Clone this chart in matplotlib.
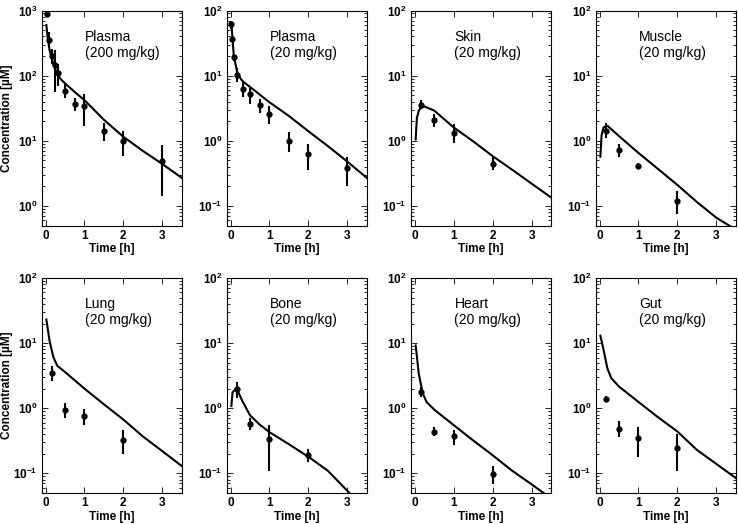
import numpy as np
import matplotlib.pyplot as plt
from matplotlib.ticker import LogLocator, FixedLocator, NullFormatter

plt.rcParams['font.family'] = ['Liberation Sans', 'DejaVu Sans']
plt.rcParams['mathtext.fontset'] = 'custom'
plt.rcParams['mathtext.bf'] = 'Liberation Sans:bold'
plt.rcParams['mathtext.rm'] = 'Liberation Sans'

# measured data: time [h], mean, lower, upper  /  model curve: time, conc
plasma200_t = [0.033, 0.083, 0.167, 0.25, 0.33, 0.5, 0.75, 1.0, 1.5, 2.0, 3.0]
plasma200_c = [880, 355, 200, 145, 108, 59, 37, 34, 14, 10, 4.9]
plasma200_lo = [820, 270, 150, 57, 69, 45, 29, 17, 10, 5.8, 1.4]
plasma200_hi = [950, 470, 260, 250, 150, 76, 45, 52, 19, 14, 8.5]
plasma200_mt = [0.02, 0.05, 0.1, 0.2, 0.3, 0.4, 0.5, 0.75, 1.0, 1.5, 2.0, 2.5, 3.0, 3.5]
plasma200_mc = [600, 400, 250, 150, 105, 87, 76, 56, 42, 21, 11.5, 7.0, 4.4, 2.7]

plasma20_t = [0.02, 0.033, 0.083, 0.167, 0.33, 0.5, 0.75, 1.0, 1.5, 2.0, 3.0]
plasma20_c = [62, 37, 19.4, 10.2, 6.3, 5.2, 3.5, 2.6, 1.0, 0.63, 0.38]
plasma20_lo = [52, 33, 17, 8.0, 4.7, 3.7, 2.7, 1.8, 0.67, 0.36, 0.2]
plasma20_hi = [70, 41, 21, 13, 8.0, 6.9, 4.4, 3.4, 1.37, 0.9, 0.56]
plasma20_mt = [0.02, 0.083, 0.167, 0.25, 0.33, 0.5, 1.0, 1.5, 2.0, 2.5, 3.0, 3.5]
plasma20_mc = [65, 20, 11.5, 9.1, 8.0, 6.7, 3.9, 2.4, 1.4, 0.83, 0.48, 0.27]

skin_t = [0.167, 0.5, 1.0, 2.0]
skin_c = [3.6, 2.08, 1.32, 0.44]
skin_lo = [3.1, 1.6, 0.93, 0.36]
skin_hi = [4.2, 2.6, 1.84, 0.56]
skin_mt = [0.02, 0.05, 0.1, 0.17, 0.25, 0.5, 0.75, 1.0, 1.5, 2.0, 2.5, 3.0, 3.5]
skin_mc = [1.05, 2.2, 2.9, 3.3, 3.35, 2.9, 2.15, 1.6, 0.98, 0.58, 0.36, 0.22, 0.135]

muscle_t = [0.167, 0.5, 1.0, 2.0]
muscle_c = [1.42, 0.71, 0.41, 0.12]
muscle_lo = [1.1, 0.57, 0.38, 0.075]
muscle_hi = [1.85, 0.88, 0.45, 0.17]
muscle_mt = [0.02, 0.05, 0.1, 0.2, 0.5, 1.0, 1.5, 2.0, 2.5, 3.0, 3.4]
muscle_mc = [0.57, 1.2, 1.6, 1.7, 1.18, 0.65, 0.37, 0.21, 0.115, 0.066, 0.047]

lung_t = [0.167, 0.5, 1.0, 2.0]
lung_c = [3.5, 0.94, 0.75, 0.33]
lung_lo = [2.65, 0.72, 0.56, 0.2]
lung_hi = [4.5, 1.22, 0.96, 0.47]
lung_mt = [0.02, 0.1, 0.2, 0.3, 0.5, 1.0, 1.5, 2.0, 2.5, 3.0, 3.5]
lung_mc = [23, 11, 6.1, 4.5, 3.6, 2.0, 1.15, 0.67, 0.37, 0.22, 0.13]

bone_t = [0.167, 0.5, 1.0, 2.0]
bone_c = [2.0, 0.58, 0.34, 0.19]
bone_lo = [1.46, 0.47, 0.11, 0.15]
bone_hi = [2.5, 0.72, 0.56, 0.24]
bone_mt = [0.02, 0.05, 0.15, 0.3, 0.5, 0.75, 1.0, 1.5, 2.0, 2.5, 3.1]
bone_mc = [1.08, 1.75, 2.05, 1.3, 0.78, 0.56, 0.43, 0.28, 0.18, 0.11, 0.047]

heart_t = [0.167, 0.5, 1.0, 2.0]
heart_c = [1.8, 0.43, 0.37, 0.098]
heart_lo = [1.5, 0.38, 0.27, 0.068]
heart_hi = [2.15, 0.51, 0.47, 0.13]
heart_mt = [0.02, 0.1, 0.2, 0.3, 0.5, 1.0, 1.5, 2.0, 2.5, 3.0, 3.35]
heart_mc = [9.2, 3.4, 1.7, 1.25, 0.95, 0.55, 0.32, 0.19, 0.11, 0.068, 0.048]

gut_t = [0.167, 0.5, 1.0, 2.0]
gut_c = [1.38, 0.48, 0.35, 0.245]
gut_lo = [1.25, 0.36, 0.18, 0.108]
gut_hi = [1.54, 0.63, 0.51, 0.4]
gut_mt = [0.02, 0.1, 0.2, 0.3, 0.5, 1.0, 1.5, 2.0, 2.5, 3.0, 3.5]
gut_mc = [13, 8, 4.1, 2.9, 2.15, 1.25, 0.73, 0.44, 0.23, 0.14, 0.085]

panels = [
    ("Plasma\n(200 mg/kg)", plasma200_t, plasma200_c, plasma200_lo, plasma200_hi, plasma200_mt, plasma200_mc, (0.5, 1000)),
    ("Plasma\n(20 mg/kg)", plasma20_t, plasma20_c, plasma20_lo, plasma20_hi, plasma20_mt, plasma20_mc, (0.05, 100)),
    ("Skin\n(20 mg/kg)", skin_t, skin_c, skin_lo, skin_hi, skin_mt, skin_mc, (0.05, 100)),
    ("Muscle\n(20 mg/kg)", muscle_t, muscle_c, muscle_lo, muscle_hi, muscle_mt, muscle_mc, (0.05, 100)),
    ("Lung\n(20 mg/kg)", lung_t, lung_c, lung_lo, lung_hi, lung_mt, lung_mc, (0.05, 100)),
    ("Bone\n(20 mg/kg)", bone_t, bone_c, bone_lo, bone_hi, bone_mt, bone_mc, (0.05, 100)),
    ("Heart\n(20 mg/kg)", heart_t, heart_c, heart_lo, heart_hi, heart_mt, heart_mc, (0.05, 100)),
    ("Gut\n(20 mg/kg)", gut_t, gut_c, gut_lo, gut_hi, gut_mt, gut_mc, (0.05, 100)),
]

fig = plt.figure(figsize=(7.38, 5.24), dpi=100)
lefts = [41.7, 226.7, 411, 595.7]
tops = [10.5, 278]
W, H = 738, 524

for i, (label, t, c, lo, hi, mt, mc, ylim) in enumerate(panels):
    row, col = divmod(i, 4)
    ax = fig.add_axes([lefts[col] / W, 1 - (tops[row] + 215) / H, 140 / W, 215 / H])
    c = np.array(c)
    yerr = [c - np.array(lo), np.array(hi) - c]
    ax.plot(mt, mc, color='black', lw=1.5)
    ax.errorbar(t, c, yerr=yerr, fmt='o', color='black', ms=3.5, elinewidth=1.5,
                capsize=0, clip_on=False)
    ax.set_yscale('log')
    ax.set_ylim(*ylim)
    ax.set_xlim(-0.1, 3.5)
    ax.set_xticks([0, 1, 2, 3])
    ax.set_xticklabels(['0', '1', '2', '3'], fontweight='bold', fontsize=8.5)
    lo_e, hi_e = int(np.ceil(np.log10(ylim[0]))), int(np.log10(ylim[1]))
    exps = list(range(lo_e, hi_e + 1))
    ax.yaxis.set_major_locator(FixedLocator([10.0 ** e for e in exps]))
    ax.set_yticklabels([r'$\mathbf{10^{%d}}$' % e for e in exps], fontsize=8.5)
    ax.yaxis.set_minor_locator(LogLocator(base=10, subs=np.arange(2, 10), numticks=20))
    ax.yaxis.set_minor_formatter(NullFormatter())
    ax.tick_params(which='both', direction='in', top=True, right=True, width=0.6)
    ax.tick_params(which='major', length=4, pad=3)
    ax.tick_params(which='minor', length=2)
    for s in ax.spines.values():
        s.set_linewidth(0.8)
    ax.set_xlabel('Time [h]', fontweight='bold', fontsize=8.5, labelpad=1)
    if col == 0:
        ax.set_ylabel('Concentration [µM]', fontweight='bold', fontsize=8.5)
        ax.yaxis.set_label_coords(-0.205, 0.5)
    ax.text(0.31, 0.91, label, transform=ax.transAxes, fontsize=10, va='top', ha='left',
            linespacing=1.15)

fig.savefig('out.png', dpi=100)
